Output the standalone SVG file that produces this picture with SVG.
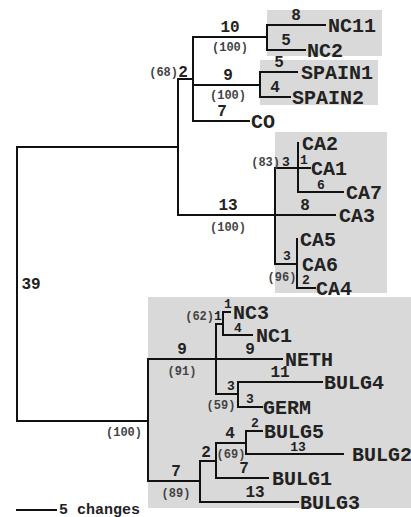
<svg xmlns="http://www.w3.org/2000/svg" width="411" height="517" viewBox="0 0 411 517">
<style>
.box{fill:#d9d9d9;stroke:none}
.br{fill:none;stroke:#111;stroke-width:2;stroke-linecap:square}
.lab{font-family:"Liberation Mono",monospace;font-weight:bold;font-size:20px;fill:#222}
.num{font-family:"Liberation Mono",monospace;font-weight:bold;font-size:16px;fill:#222;text-anchor:middle}
.sm{font-family:"Liberation Mono",monospace;font-weight:bold;font-size:13px;fill:#222;text-anchor:middle}
.bs{font-family:"Liberation Mono",monospace;font-weight:bold;font-size:12px;fill:#444;text-anchor:middle}
.bsr{font-family:"Liberation Mono",monospace;font-weight:bold;font-size:12px;fill:#444;text-anchor:end}
.sc{font-family:"Liberation Mono",monospace;font-weight:bold;font-size:15px;fill:#222}
</style>
<g id="clades">
<rect id="box-nc" class="box" x="267" y="10" width="115" height="46"/>
<rect id="box-spain" class="box" x="260" y="60" width="118" height="45"/>
<rect id="box-ca" class="box" x="275" y="132" width="112" height="161"/>
<rect id="box-east" class="box" x="148" y="297" width="263" height="211"/>
</g>
<g id="connectors">
<path class="br" d="M17,147V421M17,147H178M17,421H148"/>
<path class="br" d="M178,79V215M178,79H193M193,37V121"/>
<path class="br" d="M193,37H267M267,25V50M267,25H325M267,50H305"/>
<path class="br" d="M193,85H260M260,72V97M260,72H297M260,97H290"/>
<path class="br" d="M193,121H249"/>
<path class="br" d="M178,215H275M275,168V264M275,168H298M298,143V192M298,168H310M298,192H343M275,215H335M275,264H297M297,239V288M297,288H315"/>
<path class="br" d="M148,359V481M148,359H282M216,324V394M216,324H223M223,312V335M223,312H230M223,335H252M216,394H238M238,382V407M238,382H322M238,407H262"/>
<path class="br" d="M148,481H200M200,461V502M200,461H216M216,443V478M216,443H246M246,431V454M246,431H262M246,454H343M216,478H268M200,502H298"/>
<path class="br" d="M17,510H56"/>
</g>
<g id="root"><text class="num" x="31" y="289">39</text><text class="bs" x="124" y="436">(100)</text></g>
<g id="west"><text class="bsr" x="178" y="76">(68)</text><text class="num" x="183" y="77">2</text></g>
<g id="nc"><text class="num" x="230" y="32">10</text><text class="bs" x="230" y="51">(100)</text></g>
<g id="NC11"><text class="num" x="296" y="20">8</text><text class="lab" x="328" y="32">NC11</text></g>
<g id="NC2"><text class="num" x="286" y="45">5</text><text class="lab" x="307" y="57">NC2</text></g>
<g id="spain"><text class="num" x="228" y="80">9</text><text class="bs" x="228" y="99">(100)</text></g>
<g id="SPAIN1"><text class="num" x="279" y="67">5</text><text class="lab" x="301" y="79">SPAIN1</text></g>
<g id="SPAIN2"><text class="num" x="275" y="92">4</text><text class="lab" x="292" y="104">SPAIN2</text></g>
<g id="CO"><text class="num" x="222" y="116">7</text><text class="lab" x="251" y="128">CO</text></g>
<g id="ca"><text class="num" x="228" y="210">13</text><text class="bs" x="228" y="231">(100)</text></g>
<g id="ca-a"><text class="bsr" x="280" y="166">(83)</text><text class="sm" x="286" y="166">3</text></g>
<g id="CA2"><text class="lab" x="302" y="150">CA2</text></g>
<g id="CA1"><text class="sm" x="304" y="164">1</text><text class="lab" x="311" y="175">CA1</text></g>
<g id="CA7"><text class="sm" x="321" y="189">6</text><text class="lab" x="346" y="199">CA7</text></g>
<g id="CA3"><text class="num" x="305" y="210">8</text><text class="lab" x="339" y="222">CA3</text></g>
<g id="ca-b"><text class="sm" x="287" y="260">3</text><text class="bs" x="282" y="281">(96)</text></g>
<g id="CA5"><text class="lab" x="300" y="246">CA5</text></g>
<g id="CA6"><text class="lab" x="302" y="271">CA6</text></g>
<g id="CA4"><text class="sm" x="306" y="284">2</text><text class="lab" x="316" y="295">CA4</text></g>
<g id="east-a"><text class="num" x="182" y="354">9</text><text class="bs" x="182" y="375">(91)</text></g>
<g id="nc-east"><text class="bsr" x="214" y="320">(62)</text><text class="sm" x="218" y="320">1</text></g>
<g id="NC3"><text class="sm" x="228" y="308">1</text><text class="lab" x="233" y="319">NC3</text></g>
<g id="NC1"><text class="sm" x="238" y="332">4</text><text class="lab" x="256" y="342">NC1</text></g>
<g id="NETH"><text class="num" x="250" y="354">9</text><text class="lab" x="285" y="366">NETH</text></g>
<g id="bg-a"><text class="sm" x="231" y="390">3</text><text class="bs" x="221" y="409">(59)</text></g>
<g id="BULG4"><text class="num" x="280" y="377">11</text><text class="lab" x="324" y="389">BULG4</text></g>
<g id="GERM"><text class="sm" x="250" y="403">3</text><text class="lab" x="263" y="414">GERM</text></g>
<g id="bulg"><text class="num" x="176" y="476">7</text><text class="bs" x="176" y="497">(89)</text></g>
<g id="bulg-a"><text class="num" x="206" y="457">2</text></g>
<g id="bulg-b"><text class="num" x="230" y="438">4</text><text class="bs" x="231" y="458">(69)</text></g>
<g id="BULG5"><text class="sm" x="255" y="427">2</text><text class="lab" x="264" y="438">BULG5</text></g>
<g id="BULG2"><text class="sm" x="298" y="451">13</text><text class="lab" x="352" y="461">BULG2</text></g>
<g id="BULG1"><text class="num" x="244" y="473">7</text><text class="lab" x="272" y="485">BULG1</text></g>
<g id="BULG3"><text class="num" x="255" y="497">13</text><text class="lab" x="300" y="509">BULG3</text></g>
<g id="scale"><text class="sc" x="59" y="514">5 changes</text></g>
</svg>
